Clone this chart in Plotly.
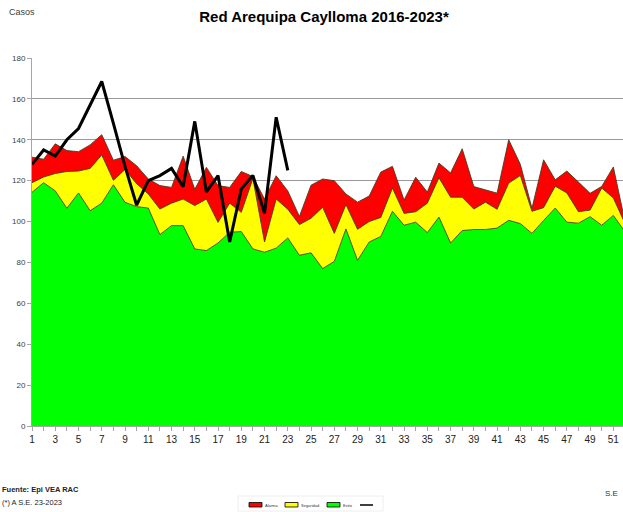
import plotly.graph_objects as go

weeks = list(range(1, 53))

exito = [114.3, 119, 115, 106.5, 114, 105.3, 109, 118, 109.4, 107.3,
         106.6, 93.6, 98, 98, 86.6, 85.8, 89.5, 94.8, 95.1, 86.6,
         85, 87, 92, 83.5, 84.7, 77, 80.5, 96.4, 81, 90,
         92.7, 105, 98.2, 99.7, 94.6, 102.2, 89.5, 95.6, 96.1, 96.1,
         96.8, 100.6, 99, 94.2, 100.5, 106.6, 99.7, 99.2, 102.4, 98.2,
         103, 95]

seguridad = [119, 121.8, 123.5, 124.5, 124.7, 126, 132.6, 120.2, 125.5, 118.5,
             113.5, 106.1, 109, 111, 107.8, 111, 99.6, 109, 104.5, 121,
             90, 111, 106, 98.5, 101.6, 107, 94.2, 108.3, 96.2, 100,
             102, 116.4, 104, 104.8, 109, 121.4, 111.9, 111.9, 106.1, 109.5,
             106, 118.8, 122.5, 105, 106.8, 117.3, 114, 104.8, 105.6, 116.4,
             111.5, 99]

alarma = [131.5, 130.5, 138, 134.7, 134.2, 137.5, 142.5, 130, 131.8, 127.3,
          120.8, 117.6, 116.7, 132, 115.8, 126.5, 117.6, 116.7, 124.5, 122,
          111, 122.4, 115, 102.5, 117.8, 120.8, 120, 113.5, 109.5, 112.5,
          124.2, 127, 110.5, 121.7, 114.4, 128.6, 123.8, 135.6, 117.1, 115.5,
          113.9, 140, 128, 106.5, 130.2, 120.4, 124.7, 119.3, 113.8, 117.2,
          126.7, 100]

weeks_2023 = list(range(1, 24))
casos_2023 = [128, 135, 132, 140, 145.5, 157, 168.5, 148, 127, 108,
              120, 122.5, 126, 117, 149, 114.5, 122.5, 90, 116, 122.5,
              104, 151, 125]

x_labels = list(range(1, 52, 2))
y_ticks = list(range(0, 181, 20))

legend_names = ["Alarma", "Seguridad", "Exito", ""]
legend_colors = ["#FF0000", "#FFFF00", "#00FF00", "#000000"]

FONT = "Liberation Sans Narrow, Arial Narrow, Liberation Sans, Arial"
EDGE = "rgba(60,60,30,0.85)"

# plot-area geometry in pixels (used only to place page furniture)
L, R, T, B = 32, 623, 58, 426


def px(xp):
    return (xp - L) / (R - L)


def py(yp):
    return (B - yp) / (B - T)


fig = go.Figure()
fig.add_trace(go.Scatter(x=weeks, y=exito, name="Exito", mode="lines",
                         line=dict(color=EDGE, width=1), fill="tozeroy",
                         fillcolor=legend_colors[2], showlegend=False))
fig.add_trace(go.Scatter(x=weeks, y=seguridad, name="Seguridad", mode="lines",
                         line=dict(color=EDGE, width=1), fill="tonexty",
                         fillcolor=legend_colors[1], showlegend=False))
fig.add_trace(go.Scatter(x=weeks, y=alarma, name="Alarma", mode="lines",
                         line=dict(color=EDGE, width=1), fill="tonexty",
                         fillcolor=legend_colors[0], showlegend=False))
fig.add_trace(go.Scatter(x=weeks_2023, y=casos_2023, name="2023", mode="lines",
                         line=dict(color="#000000", width=3), showlegend=False))

fig.update_layout(
    width=623, height=512,
    margin=dict(l=L, r=623 - R, t=T, b=512 - B, autoexpand=False),
    paper_bgcolor="white", plot_bgcolor="white",
    font=dict(family=FONT, color="#404040"),
    title=dict(text="<b>Red Arequipa Caylloma 2016-2023*</b>",
               x=(324) / 623, xanchor="center", y=1 - 17 / 512, yanchor="middle",
               font=dict(family=FONT, size=15, color="#000000")),
    xaxis=dict(range=[1, 51.83], tickvals=x_labels, ticktext=[str(v) for v in x_labels],
               showgrid=False, showline=True, linecolor="#a6a6a6", linewidth=1,
               ticks="outside", ticklen=4, tickcolor="#a6a6a6", automargin=False,
               minor=dict(ticks="outside", dtick=1, tick0=1, ticklen=4, tickcolor="#a6a6a6"),
               tickfont=dict(family=FONT, size=10, color="#222222"), zeroline=False),
    yaxis=dict(range=[0, 180], tickvals=y_ticks, showgrid=True, gridcolor="#999999",
               gridwidth=1, showline=True, linecolor="#a6a6a6", linewidth=1,
               ticks="outside", ticklen=4, tickcolor="#a6a6a6", automargin=False,
               tickfont=dict(family=FONT, size=8, color="#404040"), zeroline=False),
    showlegend=False,
)

fig.add_annotation(text="Casos", xref="paper", yref="paper", x=px(7), y=py(12.5),
                   xanchor="left", yanchor="middle", showarrow=False,
                   font=dict(family=FONT, size=9, color="#404040"))
fig.add_annotation(text="<b>Fuente: Epi VEA RAC</b>", xref="paper", yref="paper",
                   x=px(0), y=py(489), xanchor="left", yanchor="middle",
                   showarrow=False, font=dict(family=FONT, size=7.5, color="#222222"))
fig.add_annotation(text="(*) A S.E. 23-2023", xref="paper", yref="paper",
                   x=px(0), y=py(502), xanchor="left", yanchor="middle",
                   showarrow=False, font=dict(family=FONT, size=7.5, color="#222222"))
fig.add_annotation(text="S.E", xref="paper", yref="paper",
                   x=px(603), y=py(493), xanchor="left", yanchor="middle",
                   showarrow=False, font=dict(family=FONT, size=8, color="#333333"))

# small legend box at the bottom, as in the source chart
fig.add_shape(type="rect", xref="paper", yref="paper",
              x0=px(238), x1=px(383), y0=py(511), y1=py(496),
              line=dict(color="#eeeeee", width=1), fillcolor="white")
item_x = [249, 285, 327, 360]
for name, color, x0 in zip(legend_names, legend_colors, item_x):
    if name:
        fig.add_shape(type="rect", xref="paper", yref="paper",
                      x0=px(x0), x1=px(x0 + 13), y0=py(507), y1=py(502.5),
                      line=dict(color="#000000", width=0.8), fillcolor=color)
        fig.add_annotation(text=name, xref="paper", yref="paper",
                           x=px(x0 + 14), y=py(505), xanchor="left", yanchor="middle",
                           showarrow=False, font=dict(family=FONT, size=4, color="#333333"))
    else:
        fig.add_shape(type="line", xref="paper", yref="paper",
                      x0=px(x0), x1=px(x0 + 13), y0=py(505), y1=py(505),
                      line=dict(color=color, width=1.5))

fig.write_html("out.html", config={"displayModeBar": False},
               post_script="document.body.style.margin='0';document.body.style.overflow='hidden';")
